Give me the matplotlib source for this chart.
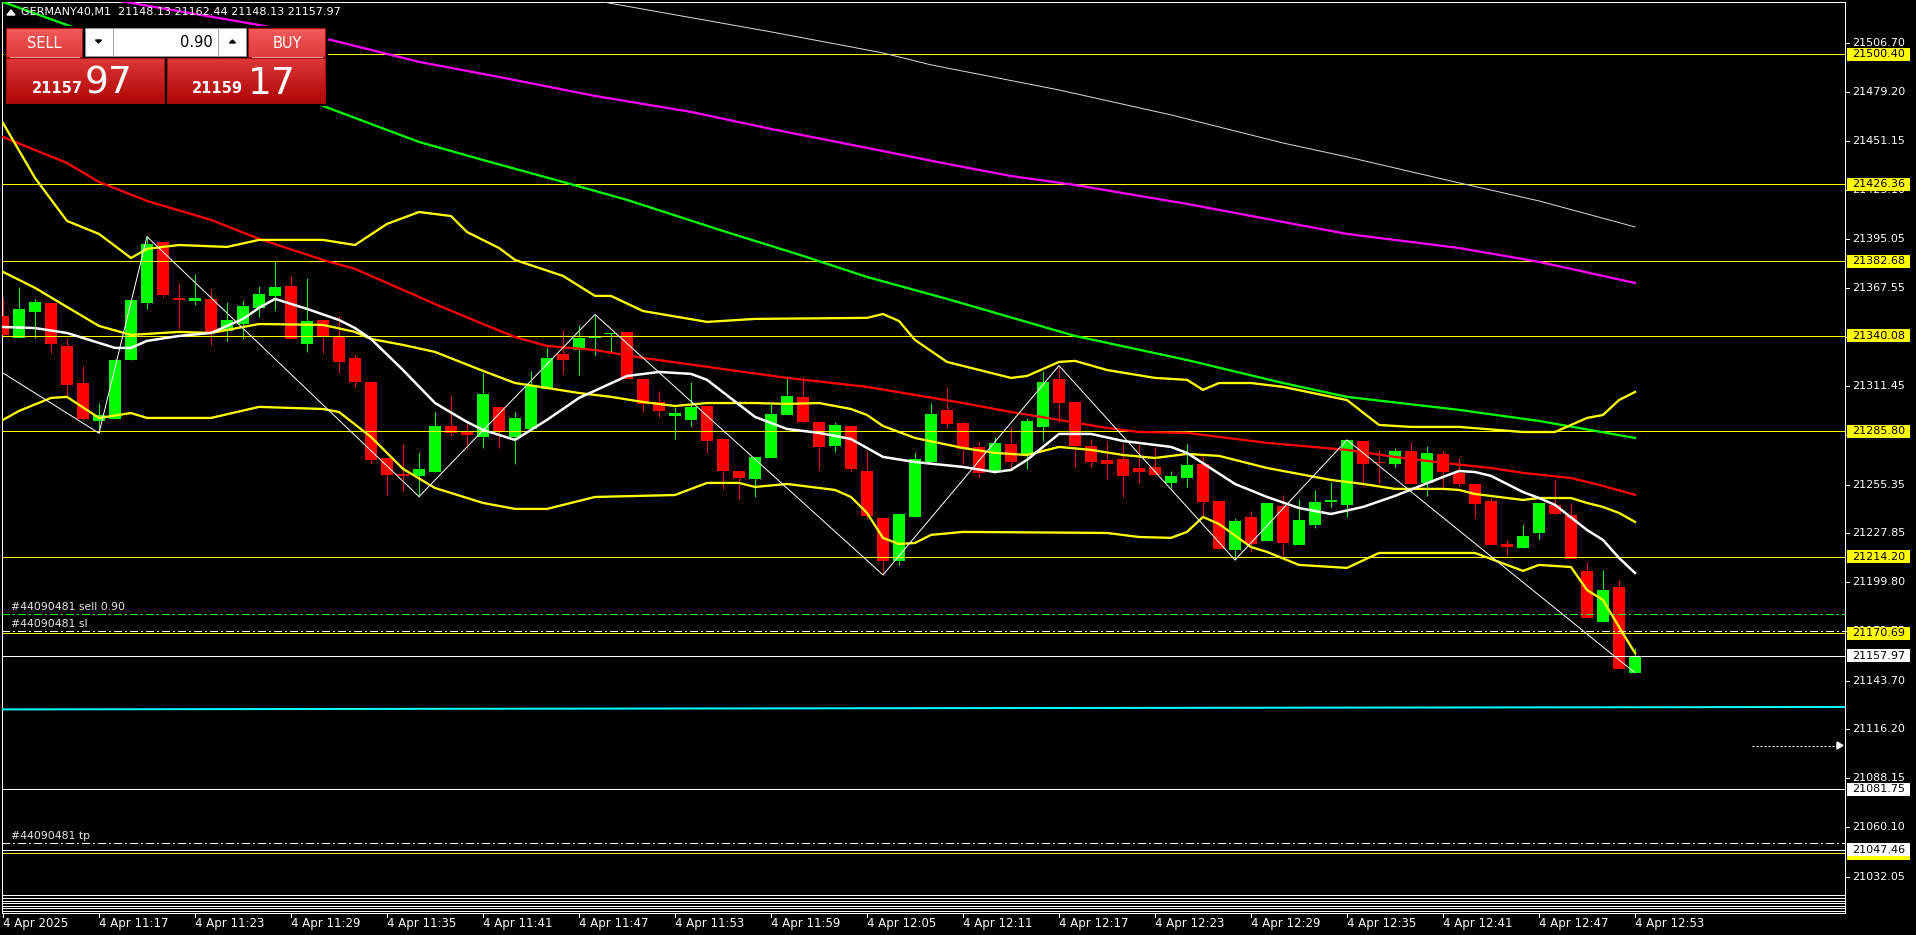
import numpy as np
import matplotlib.pyplot as plt
import matplotlib.colors as mcolors
from matplotlib.patches import Rectangle, Polygon
from matplotlib.transforms import blended_transform_factory

W, H = 1916, 935
PX = 0.72  # one pixel in points at dpi 100

# GERMANY40 M1, one bar per minute starting 4 Apr 11:11
opens = [21351.4, 21339.1, 21353.9, 21358.8, 21334.3, 21313.2, 21291.8, 21292.5, 21326.5, 21359.0,
         21393.5, 21361.6, 21360.1, 21361.1, 21342.7, 21347.0, 21356.1, 21362.8, 21368.5, 21335.6,
         21349.3, 21339.6, 21327.5, 21313.8, 21270.5, 21261.4, 21260.5, 21262.7, 21288.7, 21286.1,
         21282.7, 21299.6, 21282.7, 21287.0, 21309.8, 21329.8, 21332.0, 21338.9, 21341.0, 21342.3,
         21315.5, 21302.4, 21294.6, 21292.2, 21300.1, 21281.3, 21263.1, 21258.7, 21270.7, 21295.0,
         21305.3, 21291.0, 21277.5, 21288.7, 21263.1, 21236.3, 21212.0, 21237.1, 21268.4, 21297.9,
         21290.4, 21276.8, 21263.1, 21278.5, 21273.0, 21288.2, 21315.5, 21302.4, 21277.3, 21269.4,
         21269.9, 21264.8, 21265.4, 21256.5, 21259.3, 21267.1, 21246.0, 21218.1, 21236.9, 21223.2,
         21243.2, 21221.0, 21232.4, 21245.5, 21243.7, 21280.2, 21268.4, 21267.3, 21274.5, 21256.5,
         21272.8, 21261.8, 21255.7, 21246.0, 21221.5, 21219.4, 21228.0, 21243.8, 21238.1, 21206.2,
         21177.3, 21197.0, 21148.13]
highs = [21362.0, 21367.7, 21361.1, 21358.8, 21339.1, 21323.1, 21302.0, 21326.7, 21360.5, 21396.6,
         21393.5, 21370.2, 21375.3, 21366.6, 21359.2, 21359.9, 21368.7, 21383.3, 21374.2, 21372.8,
         21349.3, 21351.2, 21329.2, 21313.8, 21270.5, 21277.9, 21273.6, 21296.5, 21306.4, 21290.3,
         21318.7, 21300.1, 21296.7, 21320.1, 21333.4, 21343.4, 21346.3, 21352.2, 21341.9, 21342.3,
         21315.5, 21308.7, 21299.8, 21313.8, 21300.1, 21281.3, 21263.1, 21271.1, 21302.6, 21317.2,
         21316.8, 21291.0, 21291.0, 21288.7, 21274.7, 21236.3, 21239.0, 21273.4, 21301.8, 21311.0,
         21291.6, 21279.6, 21282.5, 21288.0, 21293.3, 21320.1, 21323.1, 21302.4, 21281.3, 21280.2,
         21279.2, 21277.9, 21277.0, 21263.1, 21278.5, 21271.6, 21246.6, 21236.3, 21240.3, 21244.9,
         21249.4, 21247.2, 21252.3, 21257.0, 21280.8, 21280.2, 21275.1, 21276.4, 21279.6, 21277.4,
         21274.5, 21270.5, 21255.7, 21247.9, 21223.2, 21232.4, 21244.9, 21258.6, 21244.9, 21211.3,
         21206.7, 21200.5, 21162.44]
lows = [21340.6, 21339.1, 21339.1, 21330.5, 21305.8, 21292.1, 21284.6, 21292.5, 21326.5, 21355.4,
        21362.0, 21344.0, 21357.9, 21335.1, 21337.3, 21338.1, 21351.0, 21354.8, 21338.1, 21331.1,
        21330.5, 21319.1, 21311.1, 21267.9, 21249.4, 21251.9, 21248.5, 21262.7, 21283.2, 21275.5,
        21276.0, 21276.4, 21266.9, 21287.0, 21309.8, 21318.4, 21318.0, 21329.4, 21330.5, 21315.7,
        21296.7, 21294.1, 21281.5, 21288.9, 21273.6, 21252.9, 21247.4, 21248.5, 21270.7, 21295.0,
        21290.6, 21263.7, 21274.1, 21263.1, 21236.1, 21203.9, 21209.8, 21237.1, 21268.4, 21287.8,
        21267.1, 21259.9, 21261.8, 21264.4, 21264.4, 21280.4, 21291.2, 21265.6, 21266.1, 21258.7,
        21248.5, 21256.5, 21261.0, 21253.6, 21254.2, 21237.1, 21218.7, 21212.4, 21217.0, 21223.2,
        21212.4, 21221.0, 21230.8, 21242.8, 21237.1, 21254.8, 21256.1, 21265.4, 21255.9, 21249.1,
        21253.1, 21254.8, 21236.5, 21221.0, 21214.9, 21219.4, 21224.6, 21238.2, 21212.8, 21179.6,
        21177.3, 21150.5, 21148.13]
closes = [21340.6, 21355.4, 21359.4, 21335.6, 21312.3, 21292.7, 21295.0, 21326.3, 21360.5, 21392.4,
          21363.4, 21360.5, 21361.6, 21342.5, 21349.1, 21357.1, 21363.9, 21367.9, 21338.1, 21348.5,
          21339.2, 21325.4, 21314.0, 21269.6, 21260.8, 21260.5, 21264.2, 21288.7, 21284.6, 21283.6,
          21307.0, 21286.1, 21293.3, 21311.3, 21327.5, 21326.5, 21338.9, 21339.6, 21341.9, 21315.7,
          21301.3, 21297.5, 21296.0, 21299.6, 21280.2, 21263.1, 21259.3, 21271.1, 21295.6, 21305.8,
          21291.2, 21277.0, 21289.3, 21264.4, 21237.7, 21212.0, 21238.6, 21269.9, 21295.6, 21290.1,
          21275.8, 21261.8, 21279.1, 21268.4, 21291.6, 21313.8, 21302.0, 21277.3, 21268.4, 21267.3,
          21260.5, 21262.7, 21261.0, 21260.3, 21266.5, 21245.6, 21218.7, 21234.6, 21221.5, 21244.9,
          21222.1, 21235.2, 21245.5, 21246.6, 21280.8, 21267.3, 21267.5, 21274.5, 21255.9, 21273.4,
          21262.7, 21255.9, 21244.5, 21221.0, 21220.0, 21226.1, 21244.9, 21238.8, 21213.2, 21179.6,
          21195.3, 21150.5, 21157.97]

# indicator lines: bar index -> value
ma_fast_x = [0, 2, 4, 7, 8, 9, 11, 13, 15, 16, 17, 19, 21, 22, 23, 25, 27, 29, 30, 32, 34, 36, 39, 41,
             43, 44, 47, 49, 51, 53, 55, 57, 60, 62, 63, 64, 66, 68, 70, 73, 74, 77, 79, 81, 83, 85,
             87, 90, 91, 92, 93, 95, 96, 97, 99, 100, 101, 102]
ma_fast_y = [21345.1, 21344.5, 21341.7, 21333.2, 21333.2, 21337.2, 21340.0, 21341.7, 21349.7, 21356.0,
             21361.1, 21355.4, 21349.1, 21344.5, 21338.3, 21320.6, 21301.8, 21291.0, 21286.5, 21280.8,
             21292.2, 21304.7, 21317.2, 21319.5, 21318.4, 21315.0, 21293.9, 21287.0, 21284.8, 21281.3,
             21271.1, 21268.2, 21265.4, 21262.5, 21263.7, 21269.4, 21284.2, 21284.2, 21280.2, 21276.8,
             21273.4, 21255.7, 21248.3, 21242.0, 21238.6, 21242.6, 21248.9, 21259.7, 21263.1, 21262.5,
             21260.3, 21251.1, 21247.7, 21243.8, 21229.5, 21223.8, 21213.6, 21205.0]

ma50_x = [0, 4, 6, 9, 13, 16, 20, 22, 27, 30, 32, 34, 37, 40, 49, 54, 60, 63, 66, 69, 71, 74, 79, 84,
          87, 90, 93, 95, 98, 100, 102]
ma50_y = [21453.3, 21438.5, 21427.7, 21416.9, 21406.1, 21395.3, 21383.3, 21378.2, 21358.2, 21346.8,
          21339.4, 21334.3, 21332.0, 21327.5, 21316.1, 21311.0, 21301.8, 21296.7, 21292.2, 21287.6,
          21285.3, 21284.8, 21279.1, 21275.1, 21271.1, 21267.7, 21264.8, 21262.0, 21259.1, 21254.6,
          21249.5]

ma100_x = [0, 4, 12, 20, 26, 30, 35, 39, 45, 50, 54, 59, 67, 74, 80, 84, 91, 96, 102]
ma100_y = [21530.2, 21517.1, 21493.8, 21471.0, 21450.5, 21440.2, 21427.7, 21417.5, 21399.8, 21385.6,
           21373.6, 21361.1, 21340.0, 21326.3, 21313.2, 21305.3, 21297.9, 21291.6, 21281.9]

ma200_x = [0, 8, 16, 20, 26, 31, 37, 43, 48, 54, 59, 63, 67, 74, 84, 91, 96, 102]
ma200_y = [21542.2, 21529.7, 21517.1, 21509.7, 21496.1, 21487.5, 21476.7, 21467.6, 21457.9, 21447.1,
           21438.0, 21431.1, 21426.0, 21415.2, 21398.1, 21390.1, 21382.2, 21370.2]

ma400_x = [34, 38, 48, 55, 58, 66, 73, 80, 84, 91, 96, 102]
ma400_y = [21536.5, 21529.4, 21513.2, 21501.2, 21494.4, 21480.1, 21465.9, 21449.9, 21442.0, 21427.2,
           21416.9, 21402.1]

bb_mid_x = [0, 2, 4, 6, 8, 11, 13, 16, 20, 22, 23, 25, 27, 30, 32, 34, 36, 38, 40, 42, 44, 47, 49, 51,
            53, 54, 55, 57, 60, 62, 64, 66, 68, 70, 72, 74, 76, 79, 81, 83, 85, 87, 90, 91, 92, 95, 96,
            98, 99, 100, 101, 102]
bb_mid_y = [21376.5, 21367.4, 21356.5, 21345.7, 21340.6, 21342.3, 21341.7, 21346.8, 21346.3, 21342.3,
            21338.3, 21334.9, 21330.9, 21320.1, 21313.2, 21310.4, 21307.5, 21305.3, 21302.4, 21300.1,
            21301.8, 21301.8, 21301.3, 21301.8, 21298.4, 21295.0, 21288.7, 21281.9, 21276.2, 21273.4,
            21272.2, 21276.8, 21275.1, 21272.2, 21270.5, 21272.8, 21271.7, 21264.8, 21261.4, 21258.0,
            21255.7, 21252.9, 21252.9, 21252.3, 21250.0, 21246.6, 21247.7, 21247.7, 21244.9, 21242.6,
            21239.2, 21234.1]

bb_up_x = [0, 2, 4, 6, 8, 9, 11, 14, 16, 20, 22, 24, 26, 28, 29, 31, 32, 35, 37, 38, 40, 44, 47, 54,
           55, 56, 57, 59, 63, 64, 66, 67, 69, 72, 74, 75, 76, 78, 80, 84, 86, 88, 91, 95, 97, 99,
           100, 101, 102]
bb_up_y = [21461.3, 21430.0, 21405.5, 21398.1, 21384.4, 21389.6, 21391.8, 21390.7, 21394.7, 21394.7,
           21391.8, 21403.8, 21410.6, 21408.3, 21399.2, 21390.1, 21383.3, 21374.2, 21362.8, 21362.8,
           21354.2, 21348.0, 21349.7, 21350.3, 21352.5, 21348.5, 21337.7, 21325.2, 21316.1, 21317.2,
           21325.2, 21325.8, 21320.6, 21316.1, 21315.0, 21309.3, 21313.2, 21313.2, 21311.0, 21303.5,
           21289.3, 21288.2, 21288.2, 21285.3, 21285.3, 21293.3, 21295.0, 21303.5, 21308.1]

bb_lo_x = [0, 1, 3, 4, 6, 8, 9, 13, 16, 20, 21, 23, 25, 27, 30, 32, 34, 37, 42, 44, 46, 47, 49, 52,
           53, 54, 55, 56, 57, 58, 60, 69, 71, 73, 74, 75, 76, 78, 79, 81, 84, 86, 92, 94, 95, 96,
           98, 99, 100, 101, 102]
bb_lo_y = [21292.2, 21297.3, 21304.7, 21305.3, 21293.3, 21296.1, 21293.3, 21293.3, 21299.6, 21298.4,
           21296.7, 21282.5, 21264.3, 21253.4, 21244.9, 21241.5, 21241.5, 21248.3, 21249.4, 21256.3,
           21256.3, 21254.0, 21255.7, 21252.3, 21248.3, 21239.2, 21225.0, 21221.5, 21222.1, 21226.7,
           21228.4, 21227.8, 21225.5, 21225.0, 21228.4, 21236.9, 21232.9, 21219.8, 21217.0, 21209.6,
           21207.9, 21216.4, 21216.4, 21209.6, 21206.2, 21209.6, 21208.4, 21195.3, 21189.6, 21174.3,
           21159.4]

zigzag_x = [0, 6, 9, 26, 37, 55, 66, 77, 84, 102]
zigzag_y = [21318.9, 21284.6, 21396.6, 21248.5, 21352.2, 21203.9, 21323.1, 21212.4, 21280.8, 21148.13]

# horizontal levels
yellow_levels = [21500.40, 21426.36, 21382.68, 21340.08, 21285.80, 21214.20, 21170.69, 21045.30]
white_levels = [21157.97, 21081.75, 21047.46]
order_open = 21181.7
order_sl = 21171.8
order_tp = 21051.1
cyan_line = [21127.3, 21128.7]

price_ticks = [21506.70, 21479.20, 21451.15, 21423.10, 21395.05, 21367.55, 21339.50, 21311.45,
               21283.40, 21255.35, 21227.85, 21199.80, 21171.75, 21143.70, 21116.20, 21088.15,
               21060.10, 21032.05]
time_ticks = list(range(0, 103, 6))
time_labels = ["4 Apr 2025", "4 Apr 11:17", "4 Apr 11:23", "4 Apr 11:29", "4 Apr 11:35",
               "4 Apr 11:41", "4 Apr 11:47", "4 Apr 11:53", "4 Apr 11:59", "4 Apr 12:05",
               "4 Apr 12:11", "4 Apr 12:17", "4 Apr 12:23", "4 Apr 12:29", "4 Apr 12:35",
               "4 Apr 12:41", "4 Apr 12:47", "4 Apr 12:53"]

header = "GERMANY40,M1  21148.13 21162.44 21148.13 21157.97"
NARROW = ['Liberation Sans Narrow', 'DejaVu Sans']


def grad_rect(ov, x0, y0, x1, y1, top, bottom, z):
    c0 = np.array(mcolors.to_rgb(top))
    c1 = np.array(mcolors.to_rgb(bottom))
    t = np.linspace(0, 1, 40)[:, None]
    img = (c0 * (1 - t) + c1 * t)[:, None, :]
    ov.imshow(img, extent=(x0, x1, y1, y0), origin='upper', aspect='auto',
              interpolation='bilinear', zorder=z)


def draw_candles(ax):
    o, h, l, c = (np.array(v) for v in (opens, highs, lows, closes))
    idx = np.arange(len(o))
    cols = np.where(c >= o, '#00FF00', '#FF0000')
    ax.vlines(idx, l, h, colors=cols, lw=1.0 * PX, zorder=3)
    body = np.maximum(np.abs(c - o), 0.9)
    ax.bar(idx, body, bottom=np.minimum(o, c), width=0.69, color=cols, lw=0, zorder=3.5)


def draw_indicators(ax):
    ax.plot(ma400_x, ma400_y, color='#D8D8D8', lw=1.0 * PX, zorder=5)
    ax.plot(ma200_x, ma200_y, color='#FF00FF', lw=2.3 * PX, zorder=5)
    ax.plot(ma100_x, ma100_y, color='#00FF00', lw=2.3 * PX, zorder=5)
    ax.plot(ma50_x, ma50_y, color='#FF0000', lw=2.3 * PX, zorder=5)
    for xs, ys in ((bb_up_x, bb_up_y), (bb_mid_x, bb_mid_y), (bb_lo_x, bb_lo_y)):
        ax.plot(xs, ys, color='#FFFF00', lw=2.3 * PX, zorder=5.5)
    ax.plot(ma_fast_x, ma_fast_y, color='white', lw=2.5 * PX, zorder=6)
    ax.plot(zigzag_x, zigzag_y, color='white', lw=1.0 * PX, zorder=6)


def draw_levels(ax, x0, x1):
    for p in yellow_levels:
        ax.axhline(p, color='#FFFF00', lw=1.0 * PX, zorder=4, antialiased=False)
    for p in white_levels:
        ax.axhline(p, color='white', lw=1.0 * PX, zorder=4, antialiased=False)
    dash = (0, (8, 4, 2, 4))
    ax.axhline(order_open, color='#00FF00', lw=1.0 * PX, ls=dash, zorder=4, antialiased=False)
    ax.axhline(order_sl, color='white', lw=1.0 * PX, ls=dash, zorder=4, antialiased=False)
    ax.axhline(order_tp, color='white', lw=1.0 * PX, ls=dash, zorder=4, antialiased=False)
    ax.plot([x0, x1], cyan_line, color='#00FFFF', lw=2.0 * PX, zorder=4)


def draw_panel(ov):
    ov.add_patch(Rectangle((4, 26), 323, 79, color='black', zorder=20))
    grad_rect(ov, 6, 28, 82, 57, '#F45A5A', '#DD3B3B', 21)
    grad_rect(ov, 248, 28, 325, 57, '#F45A5A', '#DD3B3B', 21)
    grad_rect(ov, 6, 58, 164, 103, '#DC3838', '#B00505', 21)
    grad_rect(ov, 167, 58, 325, 103, '#DC3838', '#B00505', 21)
    for (x0, y0, x1, y1) in ((6, 28, 82, 57), (248, 28, 325, 57), (6, 58, 164, 103), (167, 58, 325, 103)):
        ov.add_patch(Rectangle((x0, y0), x1 - x0, y1 - y0, fill=False, ec='#A01010', lw=PX, zorder=22))
    ov.plot([10, 79], [56.5, 56.5], color='#F4A0A0', lw=PX, zorder=22)
    ov.plot([252, 322], [56.5, 56.5], color='#F4A0A0', lw=PX, zorder=22)
    # lot size box
    ov.add_patch(Rectangle((85, 28), 161, 28, fc='white', ec='#909090', lw=PX, zorder=21))
    ov.plot([113, 113], [28, 56], color='#A0A0A0', lw=PX, zorder=22)
    ov.plot([218, 218], [28, 56], color='#A0A0A0', lw=PX, zorder=22)
    ov.add_patch(Polygon([(95.5, 40), (101.5, 40), (98.5, 43)], color='black', zorder=22))
    ov.add_patch(Polygon([(229.5, 43), (235.5, 43), (232.5, 40)], color='black', zorder=22))
    ov.text(44, 43, "SELL", color='white', fontsize=10.5, ha='center', va='center', family=NARROW, zorder=23)
    ov.text(287, 43, "BUY", color='white', fontsize=10.5, ha='center', va='center', family=NARROW, zorder=23)
    ov.text(213, 42.5, "0.90", color='black', fontsize=10.5, ha='right', va='center', family=NARROW, zorder=23)
    ov.text(32, 93, "21157", color='white', fontsize=10.5, fontweight='bold', ha='left', va='baseline',
            family=NARROW, zorder=23)
    ov.text(85, 94, "97", color='white', fontsize=27, ha='left', va='baseline', family=NARROW, zorder=23)
    ov.text(192, 93, "21159", color='white', fontsize=10.5, fontweight='bold', ha='left', va='baseline',
            family=NARROW, zorder=23)
    ov.text(248, 94, "17", color='white', fontsize=27, ha='left', va='baseline', family=NARROW, zorder=23)


def main():
    fig = plt.figure(figsize=(W / 100, H / 100), dpi=100, facecolor='black')
    left, right, top, bottom = 2, 1845, 2, 895
    ax = fig.add_axes([left / W, 1 - bottom / H, (right - left) / W, (bottom - top) / H])
    ax.set_facecolor('black')
    x0, x1 = (left - 3) / 16, (right - 3) / 16
    ax.set_xlim(x0, x1)
    ax.set_ylim(21021.6, 21530.2)
    ax.set_xticks([])
    ax.set_yticks([])
    for s in ax.spines.values():
        s.set_color('white')
        s.set_linewidth(PX)

    draw_levels(ax, x0, x1)
    draw_candles(ax)
    draw_indicators(ax)

    ov = fig.add_axes([0, 0, 1, 1], zorder=10)
    ov.patch.set_visible(False)
    ov.axis('off')
    tr_t = blended_transform_factory(ax.transData, ov.transData)
    tr_p = blended_transform_factory(ov.transData, ax.transData)

    # header
    ov.add_patch(Polygon([(7, 15), (15, 15), (11, 10)], color='white', zorder=20))
    ov.text(21, 12.5, header, color='white', fontsize=8, va='center', ha='left', zorder=20)

    # order labels
    lab = dict(color='#E8E8E8', fontsize=7.8, ha='left', va='bottom', transform=tr_p, zorder=20)
    ov.text(11, order_open + 1.2, "#44090481 sell 0.90", **lab)
    ov.text(11, order_sl + 1.2, "#44090481 sl", **lab)
    ov.text(11, order_tp + 1.2, "#44090481 tp", **lab)

    # chart shift marker
    ov.plot([1752, 1838], [745.5, 745.5], color='white', lw=PX, ls=(0, (2, 2)), zorder=20)
    ov.add_patch(Polygon([(1837, 742), (1843, 745.5), (1837, 749)], color='white', zorder=20))

    # price scale
    for p in price_ticks:
        ov.plot([1845, 1849], [p, p], color='white', lw=PX, transform=tr_p, zorder=20)
        ov.text(1852, p, f"{p:.2f}", color='white', fontsize=8, ha='left', va='center',
                transform=tr_p, zorder=20)
    box_h = 13 * 0.5696
    marks = [(v, '#FFFF00') for v in yellow_levels] + [(v, 'white') for v in white_levels]
    for k, (p, fc) in enumerate(marks):
        z = 21 + 0.1 * k
        ov.add_patch(Rectangle((1847, p - box_h / 2), 63, box_h, fc=fc, ec='none',
                               transform=tr_p, zorder=z))
        ov.text(1852, p, f"{p:.2f}", color='black', fontsize=8, ha='left', va='center',
                transform=tr_p, zorder=z + 0.05)

    # empty sub-windows below the main chart
    for y in (897.5, 900.5, 902.5, 905.5, 907.5, 910.5, 912.5):
        ov.plot([left, right], [y, y], color='white', lw=PX, zorder=20, antialiased=False)
    ov.plot([left, left], [895, 912.5], color='white', lw=PX, zorder=20)
    ov.plot([right, right], [895, 912.5], color='white', lw=PX, zorder=20)

    # time scale
    for t, s in zip(time_ticks, time_labels):
        ov.plot([t, t], [912.5, 916.5], color='white', lw=PX, transform=tr_t, zorder=20)
        ov.text(t, 923.5, s, color='white', fontsize=8.5, ha='left', va='center',
                transform=tr_t, zorder=20)

    draw_panel(ov)
    ov.set_xlim(0, W)
    ov.set_ylim(H, 0)

    fig.savefig('out.png', dpi=100, facecolor='black')


if __name__ == "__main__":
    main()
